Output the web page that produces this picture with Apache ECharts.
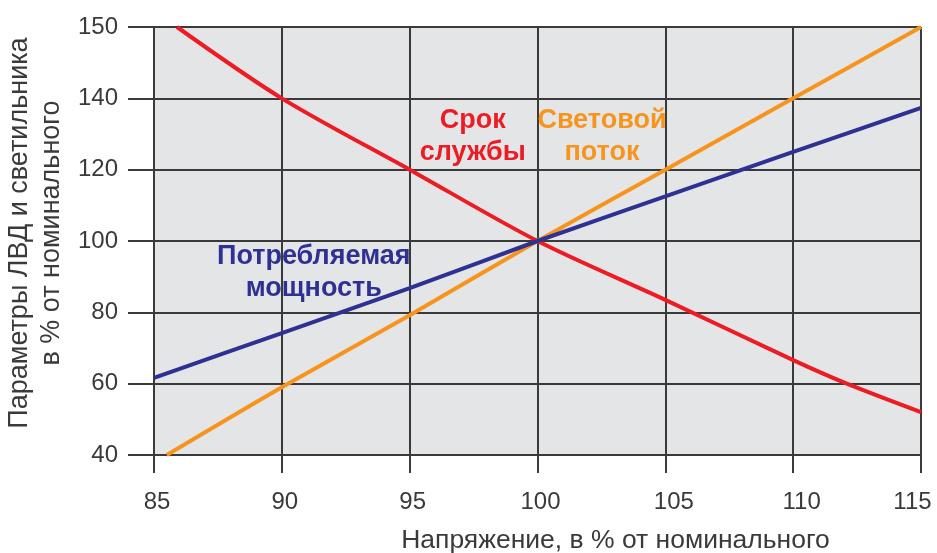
<!DOCTYPE html>
<html><head><meta charset="utf-8">
<script src="https://cdn.jsdelivr.net/npm/echarts@6/dist/echarts.min.js"></script>
<style>html,body{margin:0;padding:0;background:#fff}#c{width:937px;height:553px}</style>
</head><body><div id="c"></div>
<script>
// Voltage, % of nominal
const xTicks = [85, 90, 95, 100, 105, 110, 115];
// y tick labels as printed (top grid line is labelled 150)
const yTickLabels = {40:'40', 60:'60', 80:'80', 100:'100', 120:'120', 140:'140', 160:'150'};

const lifeX   = [85.9, 90, 95, 100, 105, 110, 112.1, 115];
const lifeY   = [160, 140, 120, 100, 83.5, 66.6, 60, 52];
const fluxX   = [85.5, 90, 95, 100, 105, 110, 115];
const fluxY   = [40, 59, 79.2, 100, 120, 140, 160];
const powerX  = [85, 90, 95, 100, 105, 110, 115];
const powerY  = [61.6, 74.2, 86.8, 100, 112.5, 125, 137.3];

const annTexts  = ['Срок\nслужбы', 'Световой\nпоток', 'Потребляемая\nмощность'];
const annX      = [97.47, 102.52, 91.25];
const annY      = [129.4, 129.4, 91.2];
const annColors = ['#ed1c24', '#f7941d', '#2e3192'];

const zip = (a,b)=>a.map((v,i)=>[v,b[i]]);
const chart = echarts.init(document.getElementById('c'));
const FONT = '"Liberation Sans", Arial, sans-serif';
const gridColor = '#3a3a3a';
const textColor = '#3a3a3a';

chart.setOption({
  animation:false,
  textStyle:{fontFamily:FONT},
  grid:{left:154, right:16, top:27, bottom:98, show:true, backgroundColor:'#e4e5e7', borderWidth:0, outerBoundsMode:'none', containLabel:false},
  xAxis:{
    type:'value', min:85, max:115, interval:5,
    name:'Напряжение, в % от номинального', nameLocation:'middle', nameGap:72,
    nameTextStyle:{fontSize:26.5, color:textColor, padding:[0,0,0,156], fontFamily:FONT},
    axisLine:{show:true, lineStyle:{color:gridColor, width:2}},
    axisTick:{show:true, length:18, lineStyle:{color:gridColor, width:2}},
    axisLabel:{fontSize:24, color:textColor, margin:35, fontFamily:FONT,
      formatter:v=>{
        if (v===115) return '{l|'+v+'}';
        if (v===105 || v===110) return '{r|'+v+'}';
        return '{n|'+v+'}';
      },
      rich:{
        n:{fontSize:24, color:textColor, fontFamily:FONT, padding:[0,0,0,6]},
        r:{fontSize:24, color:textColor, fontFamily:FONT, padding:[0,0,0,17]},
        l:{fontSize:24, color:textColor, fontFamily:FONT, padding:[0,17,0,0]}
      }
    },
    splitLine:{show:true, lineStyle:{color:gridColor, width:2}}
  },
  yAxis:{
    type:'value', min:40, max:160, interval:20,
    name:'Параметры ЛВД и светильника\nв % от номинального', nameLocation:'middle', nameGap:85,
    nameTextStyle:{fontSize:27, color:textColor, lineHeight:32, fontFamily:FONT, padding:[0,0,0,16]},
    axisLine:{show:true, lineStyle:{color:gridColor, width:2}},
    axisTick:{show:true, length:26, lineStyle:{color:gridColor, width:2}},
    axisLabel:{fontSize:24, color:textColor, margin:36, fontFamily:FONT,
      formatter:v=>yTickLabels[v]!==undefined?yTickLabels[v]:String(v)},
    splitLine:{show:true, lineStyle:{color:gridColor, width:2}}
  },
  series:[
    {type:'line', data:zip(lifeX,lifeY), smooth:0.3, symbol:'none', lineStyle:{color:'#ed1c24', width:4}, z:3},
    {type:'line', data:zip(fluxX,fluxY), smooth:0.3, symbol:'none', lineStyle:{color:'#f7941d', width:4}, z:3},
    {type:'line', data:zip(powerX,powerY), smooth:0.3, symbol:'none', lineStyle:{color:'#2e3192', width:4}, z:4}
  ]
});

chart.setOption({graphic:annTexts.map((t,i)=>{
  const p = chart.convertToPixel({gridIndex:0},[annX[i],annY[i]]);
  return {id:'a'+i, type:'text', x:p[0], y:p[1], z:10,
    style:{text:t, align:'center', verticalAlign:'middle', fill:annColors[i], font:'bold 27px '+FONT, lineHeight:32}};
})});
</script></body></html>
